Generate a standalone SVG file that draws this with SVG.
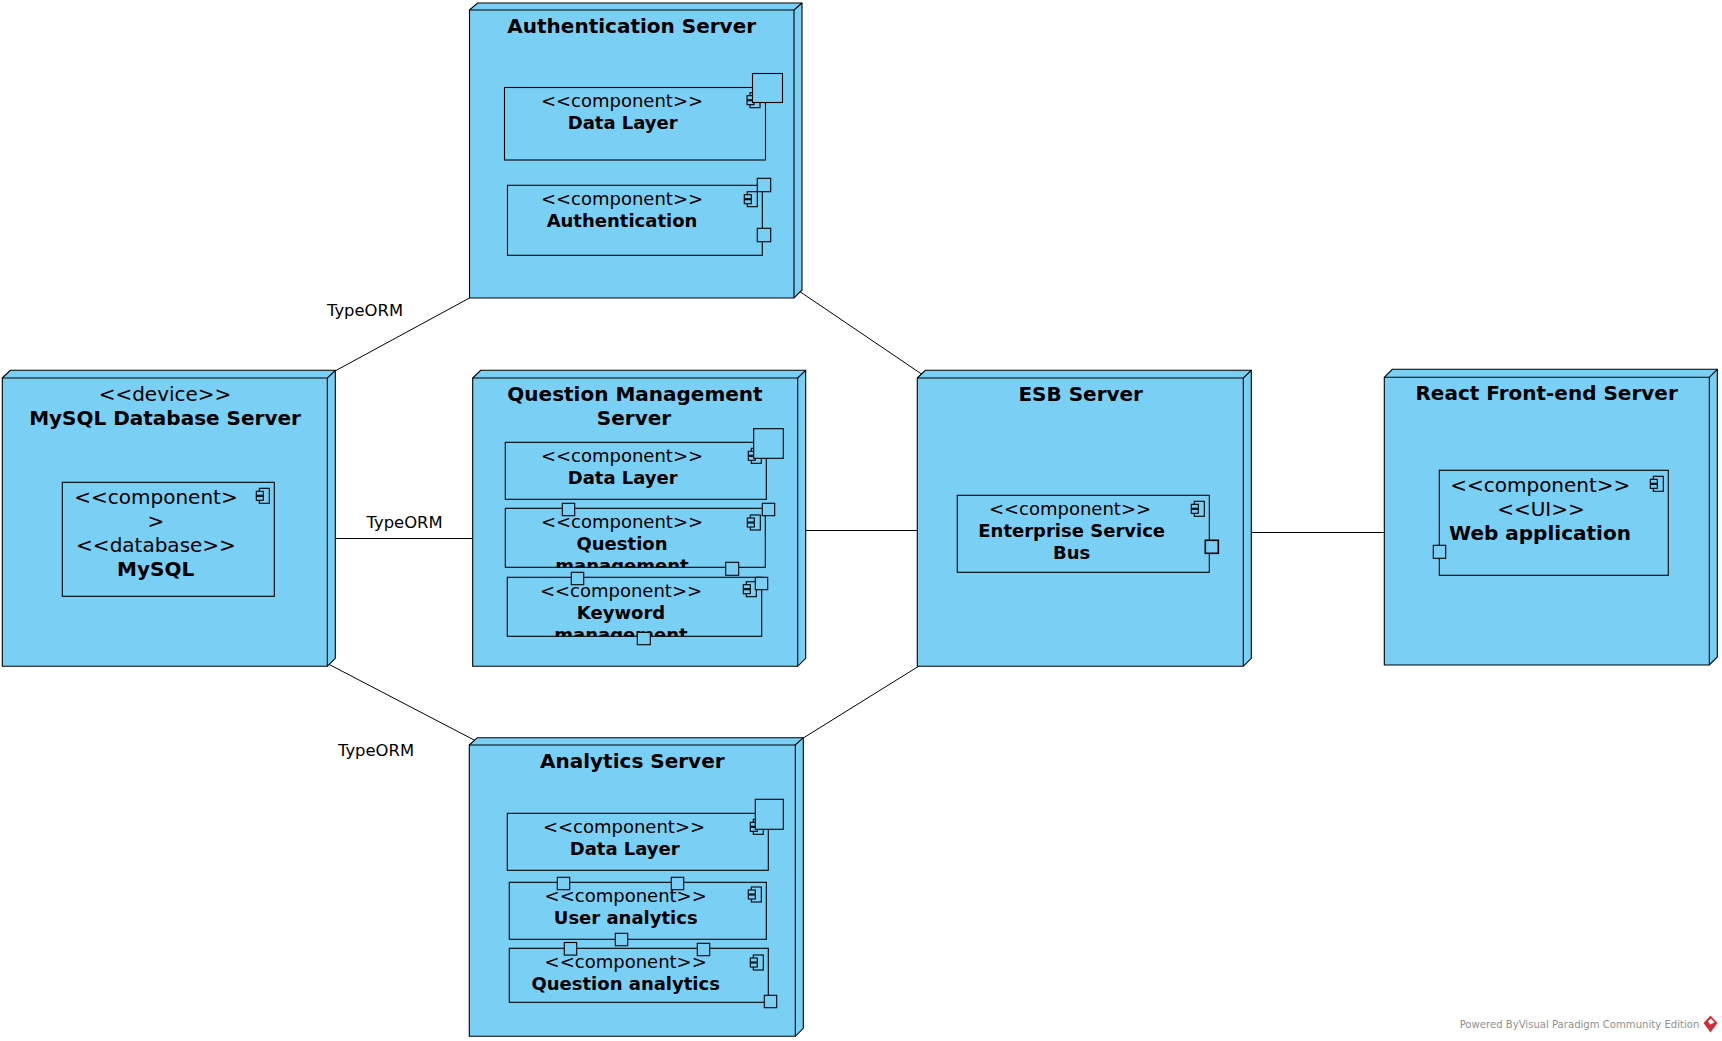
<svg xmlns="http://www.w3.org/2000/svg" width="1722" height="1041" viewBox="0 0 1722 1041">
<style>
text{font-family:"DejaVu Sans",sans-serif;fill:#000;text-anchor:middle}
.n{fill:#7acff5;stroke:#000;stroke-width:1.1;stroke-linejoin:miter}
.f{fill:none;stroke:#000;stroke-width:1.1}
.c{fill:#7acff5;stroke:#000;stroke-width:1.1}
.p{fill:#7acff5;stroke:#000;stroke-width:1.1}
.l{fill:none;stroke:#000;stroke-width:1}
.s{font-size:18px}
.b{font-size:18px;font-weight:bold}
.t{font-size:20px;font-weight:bold}
.s2{font-size:20px}
.b2{font-size:20px;font-weight:bold}
.e{font-size:16.4px}
</style>
<defs>
<g id="icon"><rect class="p" x="3" y="0" width="10" height="15"/><rect class="p" x="0" y="3" width="7" height="4"/><rect class="p" x="0" y="8" width="7" height="4"/></g>
<clipPath id="cq"><rect x="505" y="508" width="261" height="59.3"/></clipPath>
<clipPath id="ck"><rect x="507" y="577" width="255" height="59.3"/></clipPath>
</defs>
<rect width="1722" height="1041" fill="#fff"/>
<g id="connectors">
<line class="l" x1="335" y1="371" x2="469.5" y2="298"/>
<line class="l" x1="335.3" y1="538.5" x2="472.7" y2="538.5"/>
<line class="l" x1="328.3" y1="664" x2="476" y2="741"/>
<line class="l" x1="799" y1="291" x2="923" y2="375"/>
<line class="l" x1="803.3" y1="530.5" x2="917.3" y2="530.5"/>
<line class="l" x1="803.3" y1="738" x2="919" y2="666"/>
<line class="l" x1="1251.3" y1="532.5" x2="1384.3" y2="532.5"/>
</g>
<text class="e" x="365" y="316">TypeORM</text>
<text class="e" x="404.6" y="528">TypeORM</text>
<text class="e" x="376" y="756">TypeORM</text>

<g id="auth-server">
<path class="n" d="M469.5 10L477.5 3H802V290L794 298H469.5Z"/><path class="f" d="M469.5 10H794V298M794 10L802 3"/>
<text class="t" x="631.7" y="33.3">Authentication Server</text>
<g id="auth-data-layer"><rect class="c" x="504.5" y="87.5" width="261" height="72.5"/><use href="#icon" x="747" y="92.7"/><rect class="p" x="752.5" y="73.5" width="30" height="29"/>
<text class="s" x="622" y="107.3">&lt;&lt;component&gt;&gt;</text><text class="b" x="622.7" y="128.7">Data Layer</text></g>
<g id="auth-authentication"><rect class="c" x="507.5" y="185.3" width="254.8" height="70"/><use href="#icon" x="744.3" y="191.7"/><rect class="p" x="757.3" y="178.3" width="13.4" height="13.4"/><rect class="p" x="757.3" y="228.3" width="13.4" height="13.4"/>
<text class="s" x="622" y="205">&lt;&lt;component&gt;&gt;</text><text class="b" x="622" y="226.7">Authentication</text></g>
</g>

<g id="question-server">
<path class="n" d="M472.7 378L480.7 370.3H805.7V658.3L797.7 666.3H472.7Z"/><path class="f" d="M472.7 378H797.7V666.3M797.7 378L805.7 370.3"/>
<text class="t" x="635" y="401.3">Question Management</text><text class="t" x="634" y="425">Server</text>
<g id="q-data-layer"><rect class="c" x="505.3" y="442.3" width="261" height="57"/><use href="#icon" x="748.3" y="448.3"/><rect class="p" x="753.7" y="428.7" width="29.6" height="29.6"/>
<text class="s" x="622" y="461.7">&lt;&lt;component&gt;&gt;</text><text class="b" x="622.7" y="483.7">Data Layer</text></g>
<g id="q-question"><rect class="c" x="505.3" y="508.3" width="260" height="59"/><use href="#icon" x="747.3" y="515"/>
<text class="s" x="622" y="528.3">&lt;&lt;component&gt;&gt;</text><text class="b" x="622" y="550">Question</text><text class="b" x="622" y="572" clip-path="url(#cq)">management</text>
<rect class="p" x="562.3" y="503.3" width="12.4" height="12.4"/><rect class="p" x="762.3" y="503.3" width="12.4" height="12.4"/><rect class="p" x="725.7" y="562.3" width="13" height="13"/></g>
<g id="q-keyword"><rect class="c" x="507.3" y="577.3" width="254.4" height="59"/><use href="#icon" x="743.3" y="581.7"/>
<text class="s" x="621" y="597.3">&lt;&lt;component&gt;&gt;</text><text class="b" x="621" y="619.3">Keyword</text><text class="b" x="621" y="641.3" clip-path="url(#ck)">management</text>
<rect class="p" x="571.3" y="572.3" width="12.4" height="12.4"/><rect class="p" x="755.3" y="577.3" width="12.4" height="12.4"/><rect class="p" x="637.3" y="632.3" width="13" height="12.4"/></g>
</g>

<g id="analytics-server">
<path class="n" d="M469.3 745L477.3 737.7H803.3V1028.3L795.3 1036.3H469.3Z"/><path class="f" d="M469.3 745H795.3V1036.3M795.3 745L803.3 737.7"/>
<text class="t" x="632.3" y="768.3">Analytics Server</text>
<g id="a-data-layer"><rect class="c" x="507.3" y="813.3" width="261" height="57"/><use href="#icon" x="750.3" y="819.3"/><rect class="p" x="755.3" y="799.3" width="28" height="30"/>
<text class="s" x="624" y="833.3">&lt;&lt;component&gt;&gt;</text><text class="b" x="624.7" y="854.7">Data Layer</text></g>
<g id="a-user"><rect class="c" x="509.3" y="882.3" width="257" height="57"/><use href="#icon" x="748.3" y="887"/>
<text class="s" x="625.7" y="902">&lt;&lt;component&gt;&gt;</text><text class="b" x="625.7" y="924.2">User analytics</text>
<rect class="p" x="557.3" y="877.3" width="12.4" height="12.4"/><rect class="p" x="671.3" y="877.3" width="12.4" height="12.4"/><rect class="p" x="615.3" y="933.3" width="12.4" height="12.4"/></g>
<g id="a-question"><rect class="c" x="509.3" y="948.3" width="259" height="54"/><use href="#icon" x="750.3" y="955"/>
<text class="s" x="625.7" y="968">&lt;&lt;component&gt;&gt;</text><text class="b" x="625.7" y="990.2">Question analytics</text>
<rect class="p" x="564.3" y="942.5" width="12.4" height="12.6"/><rect class="p" x="697.3" y="943.3" width="12.4" height="12.4"/><rect class="p" x="764.3" y="995.3" width="12.4" height="12.4"/></g>
</g>

<g id="mysql-server">
<path class="n" d="M2.3 378L10.3 370.3H335.3V658.3L327.3 666.3H2.3Z"/><path class="f" d="M2.3 378H327.3V666.3M327.3 378L335.3 370.3"/>
<text class="s2" x="165" y="401">&lt;&lt;device&gt;&gt;</text><text class="t" x="165" y="425.3">MySQL Database Server</text>
<g id="mysql-component"><rect class="c" x="62.3" y="482.3" width="212" height="114"/><use href="#icon" x="256.3" y="488.3"/>
<text class="s2" x="156" y="504">&lt;&lt;component&gt;</text><text class="s2" x="156" y="527.5">&gt;</text><text class="s2" x="156" y="552">&lt;&lt;database&gt;&gt;</text><text class="b2" x="155.6" y="576.3">MySQL</text></g>
</g>

<g id="esb-server">
<path class="n" d="M917.3 378L925.3 370.3H1251.3V658.3L1243.3 666.3H917.3Z"/><path class="f" d="M917.3 378H1243.3V666.3M1243.3 378L1251.3 370.3"/>
<text class="t" x="1080.7" y="401.3">ESB Server</text>
<g id="esb-component"><rect class="c" x="957.3" y="495.3" width="252" height="77"/><use href="#icon" x="1191.3" y="501.3"/>
<text class="s" x="1070" y="515">&lt;&lt;component&gt;&gt;</text><text class="b" x="1071.7" y="537">Enterprise Service</text><text class="b" x="1071.7" y="559">Bus</text>
<rect class="p" x="1205.3" y="540.3" width="13" height="13" style="stroke-width:1.6"/></g>
</g>

<g id="react-server">
<path class="n" d="M1384.3 377.3L1392.3 369.3H1717.3V657L1709.3 665H1384.3Z"/><path class="f" d="M1384.3 377.3H1709.3V665M1709.3 377.3L1717.3 369.3"/>
<text class="t" x="1546.6" y="400.3">React Front-end Server</text>
<g id="react-component"><rect class="c" x="1439.3" y="470.3" width="229" height="105"/><use href="#icon" x="1650.3" y="476.3"/>
<text class="s2" x="1540.3" y="492">&lt;&lt;component&gt;&gt;</text><text class="s2" x="1541" y="516">&lt;&lt;UI&gt;&gt;</text><text class="b2" x="1540" y="540.2">Web application</text>
<rect class="p" x="1433.3" y="545.3" width="12.4" height="13"/></g>
</g>

<g id="footer">
<text x="1579.5" y="1028" style="font-size:10.1px;fill:#909090">Powered ByVisual Paradigm Community Edition</text>
<path d="M1710.5 1015.5L1717.5 1023L1710.5 1032.5L1703.5 1023Z" fill="#cf2e36"/><path d="M1708 1021L1711 1018.5L1714.5 1022.5L1710 1024.5Z" fill="#fff"/>
</g>
</svg>
